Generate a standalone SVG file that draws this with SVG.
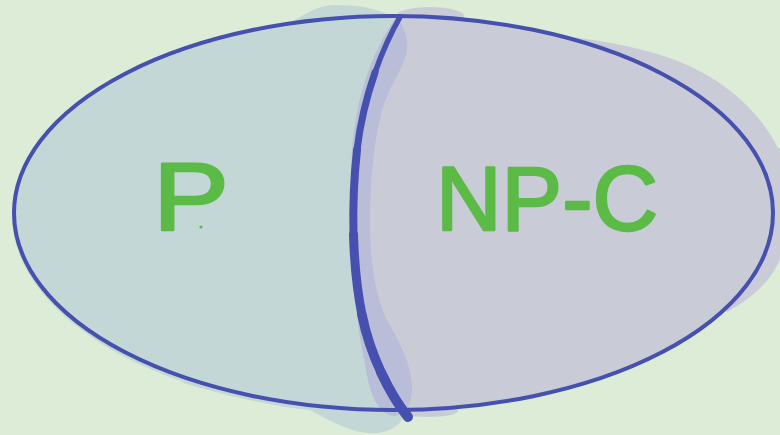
<svg xmlns="http://www.w3.org/2000/svg" width="780" height="435" viewBox="0 0 780 435">
  <defs>
    <style>
      .bg { fill: #dcecd6; }
      .fill-p { fill: #c3d8d6; }
      .fill-npc { fill: #c9cbd7; }
      .band { fill: #b9bdd8; }
      .outline { fill: none; stroke: #4550af; stroke-width: 4; }
      .divider { fill: none; stroke: #4550af; stroke-linecap: round; stroke-linejoin: round; }
      .label { font-family: "Liberation Sans", Arial, sans-serif; fill: #5cba47; stroke: #5cba47; stroke-width: 2.5; stroke-linejoin: round; stroke-linecap: round; }
    </style>
    <!-- region left of the dividing curve -->
    <clipPath id="leftSide">
      <path d="M0,0 H400 C384,45 364,92 357,150 C351,205 352,265 362,315 C370,355 390,395 408,435 H0 Z"/>
    </clipPath>
  </defs>

  <rect class="bg" x="0" y="0" width="780" height="435"/>

  <!-- NP-complete set (right) -->
  <g id="npc-region">
    <ellipse class="fill-npc" cx="393.5" cy="213" rx="380" ry="198"/>
    <path class="fill-npc" d="M540,34 C590,38 640,46 680,62 C720,78 758,108 778,148 L782,150 L782,252 C776,276 756,296 727,312 L600,200 Z"/>
    <ellipse class="fill-npc" cx="430" cy="16" rx="34" ry="9"/>
    <ellipse class="fill-npc" cx="428" cy="411" rx="30" ry="6"/>
  </g>

  <!-- P set (left) -->
  <g id="p-region">
    <ellipse class="fill-p" cx="394" cy="215" rx="382" ry="200" clip-path="url(#leftSide)"/>
    <path class="fill-p" d="M288,24 C308,12 320,5 335,5 C350,5 362,6 372,9 C384,12 392,15 399,18 L390,30 L300,30 Z"/>
    <path class="fill-p" d="M180,382 C230,398 280,402 302,406 C330,420 356,438 384,432 C398,428 404,420 405,410 L300,395 Z"/>
  </g>

  <!-- shading along the boundary -->
  <g id="boundary-band">
    <path class="band" d="M396,17 C404,26 410,40 406,55 C402,70 390,85 382,110 C374,140 370,180 370,220 C370,260 374,290 386,318 C398,340 410,360 412,385 C413,402 406,414 395,416 C382,416 372,400 368,380 C362,350 356,320 354,280 C350,240 349,200 352,150 C356,100 370,55 396,17 Z"/>
  </g>

  <!-- outlines -->
  <g id="connectors">
    <ellipse class="outline" cx="393.5" cy="213" rx="379.5" ry="197"/>
    <!-- dividing curve, drawn in pieces that thicken towards the bottom -->
    <path class="divider" stroke-width="5.5" d="M400,17 C392,31 383,49.75 375.1,72.25"/>
    <path class="divider" stroke-width="7" d="M375.1,72.25 C367.25,94.75 360.5,121 357,150"/>
    <path class="divider" stroke-width="8" d="M357,150 C354,177.5 352.75,206.25 353.5,234.4"/>
    <path class="divider" stroke-width="9" d="M353.5,234.4 C354.25,262.5 357,290 362,315"/>
    <path class="divider" stroke-width="9.5" d="M362,315 C366,335 373,355 381.25,372.75"/>
    <path class="divider" stroke-width="10" d="M381.25,372.75 C389.5,390.5 399,406 408,417"/>
  </g>

  <g id="label-p">
    <text class="label" x="153" y="230" font-size="96" textLength="76" lengthAdjust="spacingAndGlyphs">P</text>
    <circle cx="201" cy="227" r="1.6" fill="#5cba47"/>
  </g>

  <g id="label-npc">
    <text class="label" x="436" y="230" font-size="90" textLength="222" lengthAdjust="spacingAndGlyphs">NP-C</text>
  </g>
</svg>
